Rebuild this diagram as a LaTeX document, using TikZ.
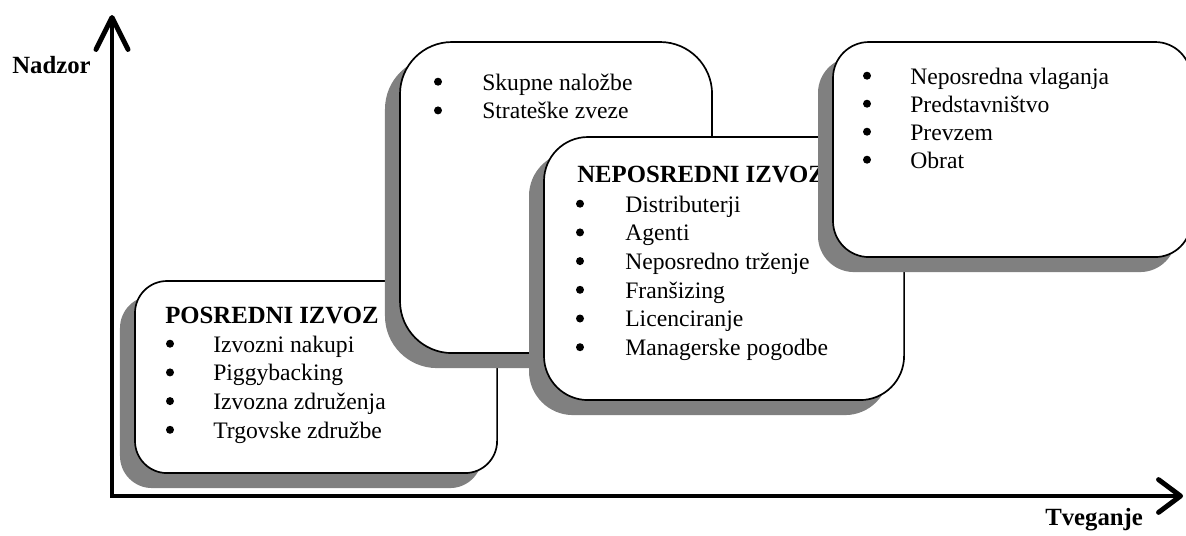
\documentclass[tikz,border=0pt]{standalone}
\usepackage{fontspec}
\setmainfont{Liberation Serif}
\usepackage{xcolor}
\usepackage{tikz}
\usetikzlibrary{arrows.meta,shadows}

\definecolor{senca}{gray}{0.5}

\begin{document}
\begin{tikzpicture}[
		x=0.025cm, y=-0.025cm,
		font=\fontsize{16.8}{20.4}\selectfont,
		okno/.style={
			draw, line width=1.2pt, fill=white,
			rounded corners=#1, anchor=north west,
			inner sep=0pt, outer sep=0pt,
			drop shadow={shadow xshift=-0.375cm, shadow yshift=-0.375cm, fill=senca, opacity=1}
			},
		naslov/.style={anchor=base west, inner sep=0pt, font=\fontsize{17.6}{21}\selectfont\bfseries},
		alineja/.style={anchor=base west, inner sep=0pt},
		pika/.style={fill=black},
		os/.style={
			line width=3.5pt, line join=miter,
			{Straight Barb[length=0.8cm, width=0.8cm, round]}-{Straight Barb[length=0.55cm, width=0.82cm, round]}
			}
		]
	
		\useasboundingbox (0,0) rectangle (1186,535);
	
		% osi
		\coordinate (vrh) at (112,15);
		\coordinate (izhodisce) at (112,496);
		\coordinate (konec) at (1183,496);
		\draw[os] (vrh) -- (izhodisce) -- (konec);
		\node[naslov] (nadzor) at (12,73) {Nadzor};
		\node[naslov] (tveganje) at (1045,525) {Tveganje};
	
		% posredni izvoz
		\node[okno=0.8cm, minimum width=9.05cm, minimum height=4.8cm] (posredni) at (135,281) {};
		\node[naslov] (posredni-n) at (165,323) {POSREDNI IZVOZ};
		\foreach \besedilo [count=\i from 0] in {Izvozni nakupi, Piggybacking, Izvozna združenja, Trgovske združbe} {
			\fill[pika] (170,352+28.7*\i-8.3) circle (4);
			\node[alineja] (posredni-\i) at (213,352+28.7*\i) {\besedilo};
		}
	
		% skupne nalozbe
		\node[okno=1.3cm, minimum width=7.8cm, minimum height=7.775cm] (skupne) at (400,42) {};
		\foreach \besedilo [count=\i from 0] in {Skupne naložbe, Strateške zveze} {
			\fill[pika] (438,90+28.7*\i-8.3) circle (4);
			\node[alineja] (skupne-\i) at (482,90+28.7*\i) {\besedilo};
		}
	
		% neposredni izvoz
		\node[okno=1.1cm, minimum width=9cm, minimum height=6.575cm] (neposredni) at (544,137) {};
		\node[naslov] (neposredni-n) at (577,182) {NEPOSREDNI IZVOZ};
		\foreach \besedilo [count=\i from 0] in {Distributerji, Agenti, Neposredno trženje, Franšizing, Licenciranje, Managerske pogodbe} {
			\fill[pika] (580,212+28.7*\i-8.3) circle (4);
			\node[alineja] (neposredni-\i) at (625,212+28.7*\i) {\besedilo};
		}
	
		% neposredna vlaganja
		\node[okno=0.9cm, minimum width=8.95cm, minimum height=5.375cm] (vlaganja) at (833,42) {};
		\foreach \besedilo [count=\i from 0] in {Neposredna vlaganja, Predstavništvo, Prevzem, Obrat} {
			\fill[pika] (867,84+28*\i-8.3) circle (4);
			\node[alineja] (vlaganja-\i) at (910,84+28*\i) {\besedilo};
		}
	
	\end{tikzpicture}
\end{document}
